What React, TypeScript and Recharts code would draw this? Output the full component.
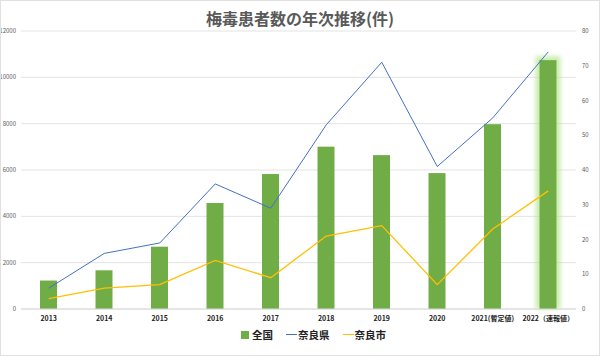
import {
  Bar,
  CartesianGrid,
  Cell,
  ComposedChart,
  Legend,
  Line,
  XAxis,
  YAxis,
} from "recharts";

const years = [
  "2013",
  "2014",
  "2015",
  "2016",
  "2017",
  "2018",
  "2019",
  "2020",
  "2021(暫定値)",
  "2022（速報値）",
];
const national = [1228, 1671, 2690, 4575, 5826, 7007, 6642, 5867, 7978, 10742];
const naraPref = [6, 16, 19, 36, 29, 53, 71, 41, 55, 74];
const naraCity = [3, 6, 7, 14, 9, 21, 24, 7, 23, 34];
const leftTicks = [0, 2000, 4000, 6000, 8000, 10000, 12000];
const rightTicks = [0, 10, 20, 30, 40, 50, 60, 70, 80];

const data = years.map((year, i) => ({
  year,
  national: national[i],
  naraPref: naraPref[i],
  naraCity: naraCity[i],
}));

const GREEN = "#70AD47";
const BLUE = "#4472C4";
const YELLOW = "#FFC000";
const FONT = '"Noto Sans CJK JP", "Noto Sans", sans-serif';

function GlowBar(props: any) {
  const { x, y, width, height, index } = props;
  if (index !== years.length - 1) {
    return <rect x={x} y={y} width={width} height={height} fill={GREEN} />;
  }
  return (
    <g>
      <rect
        x={x - 4}
        y={y - 4}
        width={width + 8}
        height={height + 4}
        fill="#b5e58f"
        opacity={0.7}
        filter="url(#glow)"
      />
      <rect x={x} y={y} width={width} height={height} fill={GREEN} />
    </g>
  );
}

function LegendContent() {
  const item = { display: "flex", alignItems: "center", marginLeft: 13 };
  return (
    <div
      style={{
        display: "flex",
        justifyContent: "center",
        paddingLeft: 27,
        fontFamily: FONT,
        fontSize: 10.5,
        fontWeight: 700,
        color: "#222",
      }}
    >
      <div style={{ ...item, marginLeft: 0 }}>
        <span style={{ width: 8, height: 8, background: GREEN, marginRight: 3 }} />
        全国
      </div>
      <div style={item}>
        <span style={{ width: 11, height: 1.5, background: BLUE, marginRight: 1 }} />
        奈良県
      </div>
      <div style={item}>
        <span style={{ width: 11, height: 1.5, background: YELLOW, marginRight: 1 }} />
        奈良市
      </div>
    </div>
  );
}

export default function App() {
  return (
    <div
      style={{
        position: "fixed",
        left: 0,
        top: 0,
        width: 600,
        height: 356,
        background: "#fff",
      }}
    >
      <div
        style={{
          position: "absolute",
          top: 6,
          left: 0,
          width: 600,
          textAlign: "center",
          fontFamily: FONT,
          fontSize: 16,
          fontWeight: 700,
          color: "#595959",
          zIndex: 1,
        }}
      >
        梅毒患者数の年次推移(件)
      </div>
      <ComposedChart
        width={600}
        height={356}
        data={data}
        margin={{ top: 31, right: 0, bottom: 9, left: 0 }}
      >
        <defs>
          <filter id="glow" x="-50%" y="-10%" width="200%" height="120%">
            <feGaussianBlur stdDeviation="2" />
          </filter>
        </defs>
        <CartesianGrid
          vertical={false}
          stroke="#e3e3e3"
          yAxisId="left"
        />
        <XAxis
          dataKey="year"
          height={18}
          tickSize={0}
          tickMargin={7}
          interval={0}
          axisLine={{ stroke: "#d9d9d9" }}
          tick={{ fontSize: 7, fontWeight: 700, fill: "#222", fontFamily: FONT }}
        />
        <YAxis
          yAxisId="left"
          domain={[0, 12000]}
          ticks={leftTicks}
          width={21}
          tickSize={0}
          tickMargin={5}
          axisLine={false}
          tick={{ fontSize: 6, fill: "#595959", fontFamily: FONT }}
        />
        <YAxis
          yAxisId="right"
          orientation="right"
          domain={[0, 80]}
          ticks={rightTicks}
          width={24}
          tickSize={0}
          tickMargin={6}
          axisLine={false}
          tick={{ fontSize: 6, fill: "#595959", fontFamily: FONT, textAnchor: "start" }}
        />
        <Bar
          yAxisId="left"
          dataKey="national"
          name="全国"
          fill={GREEN}
          barSize={17}
          shape={GlowBar}
          isAnimationActive={false}
        >
          {data.map((_, i) => (
            <Cell key={i} fill={GREEN} />
          ))}
        </Bar>
        <Line
          yAxisId="right"
          dataKey="naraPref"
          name="奈良県"
          stroke={BLUE}
          strokeWidth={1}
          dot={false}
          type="linear"
          isAnimationActive={false}
        />
        <Line
          yAxisId="right"
          dataKey="naraCity"
          name="奈良市"
          stroke={YELLOW}
          strokeWidth={1.3}
          dot={false}
          type="linear"
          isAnimationActive={false}
        />
        <Legend verticalAlign="bottom" height={20} content={<LegendContent />} />
      </ComposedChart>
      <div
        style={{
          position: "absolute",
          inset: 0,
          border: "1px solid #e0e0e0",
          pointerEvents: "none",
        }}
      />
    </div>
  );
}
